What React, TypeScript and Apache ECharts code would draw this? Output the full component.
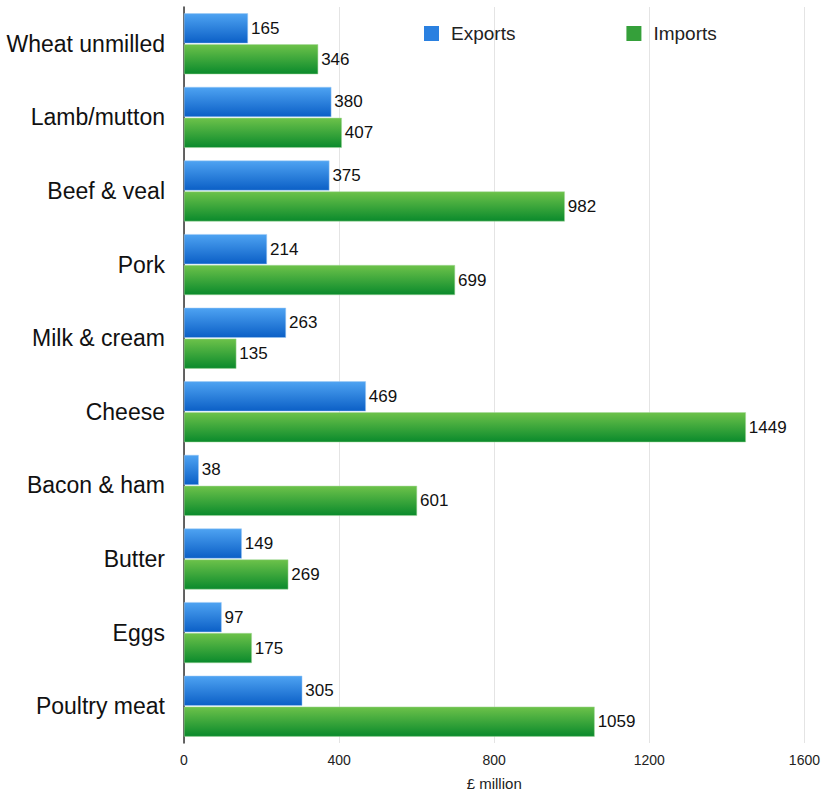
import React, { useEffect, useRef } from "react";
import * as echarts from "echarts";

const categories = [
  "Wheat unmilled",
  "Lamb/mutton",
  "Beef & veal",
  "Pork",
  "Milk & cream",
  "Cheese",
  "Bacon & ham",
  "Butter",
  "Eggs",
  "Poultry meat",
];
const exportsData = [165, 380, 375, 214, 263, 469, 38, 149, 97, 305];
const importsData = [346, 407, 982, 699, 135, 1449, 601, 269, 175, 1059];
const xTicks = [0, 400, 800, 1200, 1600];

const FONT = "Liberation Sans, Arial, Helvetica, sans-serif";

export default function App() {
  const ref = useRef<HTMLDivElement>(null);
  useEffect(() => {
    const chart = echarts.init(ref.current!, null, { renderer: "svg" });
    const blue = new echarts.graphic.LinearGradient(0, 0, 0, 1, [
      { offset: 0, color: "#4ea3f2" },
      { offset: 1, color: "#0b5fc6" },
    ]);
    const green = new echarts.graphic.LinearGradient(0, 0, 0, 1, [
      { offset: 0, color: "#6dc24a" },
      { offset: 1, color: "#0a8a2c" },
    ]);
    chart.setOption({
      animation: false,
      textStyle: { fontFamily: FONT },
      legend: {
        left: 419,
        top: 19,
        itemWidth: 15,
        itemHeight: 15,
        itemGap: 111,
        icon: "rect",
        textStyle: { fontSize: 19, color: "#222", fontFamily: FONT, padding: [0, 0, 0, 7] },
        data: [
          { name: "Exports", itemStyle: { color: "#2a80e0", borderWidth: 0 } },
          { name: "Imports", itemStyle: { color: "#35a03a", borderWidth: 0 } },
        ],
      },
      grid: { left: 184, right: 17, top: 7, bottom: 51, containLabel: false },
      xAxis: {
        type: "value",
        min: xTicks[0],
        max: xTicks[xTicks.length - 1],
        interval: 400,
        name: "£ million",
        nameLocation: "middle",
        nameGap: 33,
        nameTextStyle: { fontSize: 15, color: "#222", fontFamily: FONT },
        axisLine: { show: false },
        axisTick: { show: false },
        axisLabel: {
          fontSize: 14,
          color: "#222",
          margin: 10,
          fontFamily: FONT,
          formatter: (v: number) => String(v),
        },
        splitLine: { show: true, lineStyle: { color: "#e4e4e4", width: 1 } },
      },
      yAxis: {
        type: "category",
        data: categories,
        inverse: true,
        axisLine: { show: true, lineStyle: { color: "#333", width: 1.5 } },
        axisTick: { show: false },
        axisLabel: { fontSize: 23, color: "#111", margin: 19, fontFamily: FONT },
      },
      series: [
        {
          name: "Exports",
          type: "bar",
          data: exportsData,
          barWidth: 30,
          barGap: "3%",
          itemStyle: { color: blue, borderColor: "#9cc8f5", borderWidth: 0.5 },
          label: {
            show: true,
            position: "right",
            distance: 3,
            fontSize: 17,
            color: "#111",
            fontFamily: FONT,
          },
        },
        {
          name: "Imports",
          type: "bar",
          data: importsData,
          barWidth: 30,
          barGap: "3%",
          itemStyle: { color: green, borderColor: "#a4d99a", borderWidth: 0.5 },
          label: {
            show: true,
            position: "right",
            distance: 3,
            fontSize: 17,
            color: "#111",
            fontFamily: FONT,
          },
        },
      ],
    });
    return () => chart.dispose();
  }, []);
  return (
    <div
      ref={ref}
      style={{ position: "fixed", left: 0, top: 0, width: 823, height: 796, background: "#fff" }}
    />
  );
}
